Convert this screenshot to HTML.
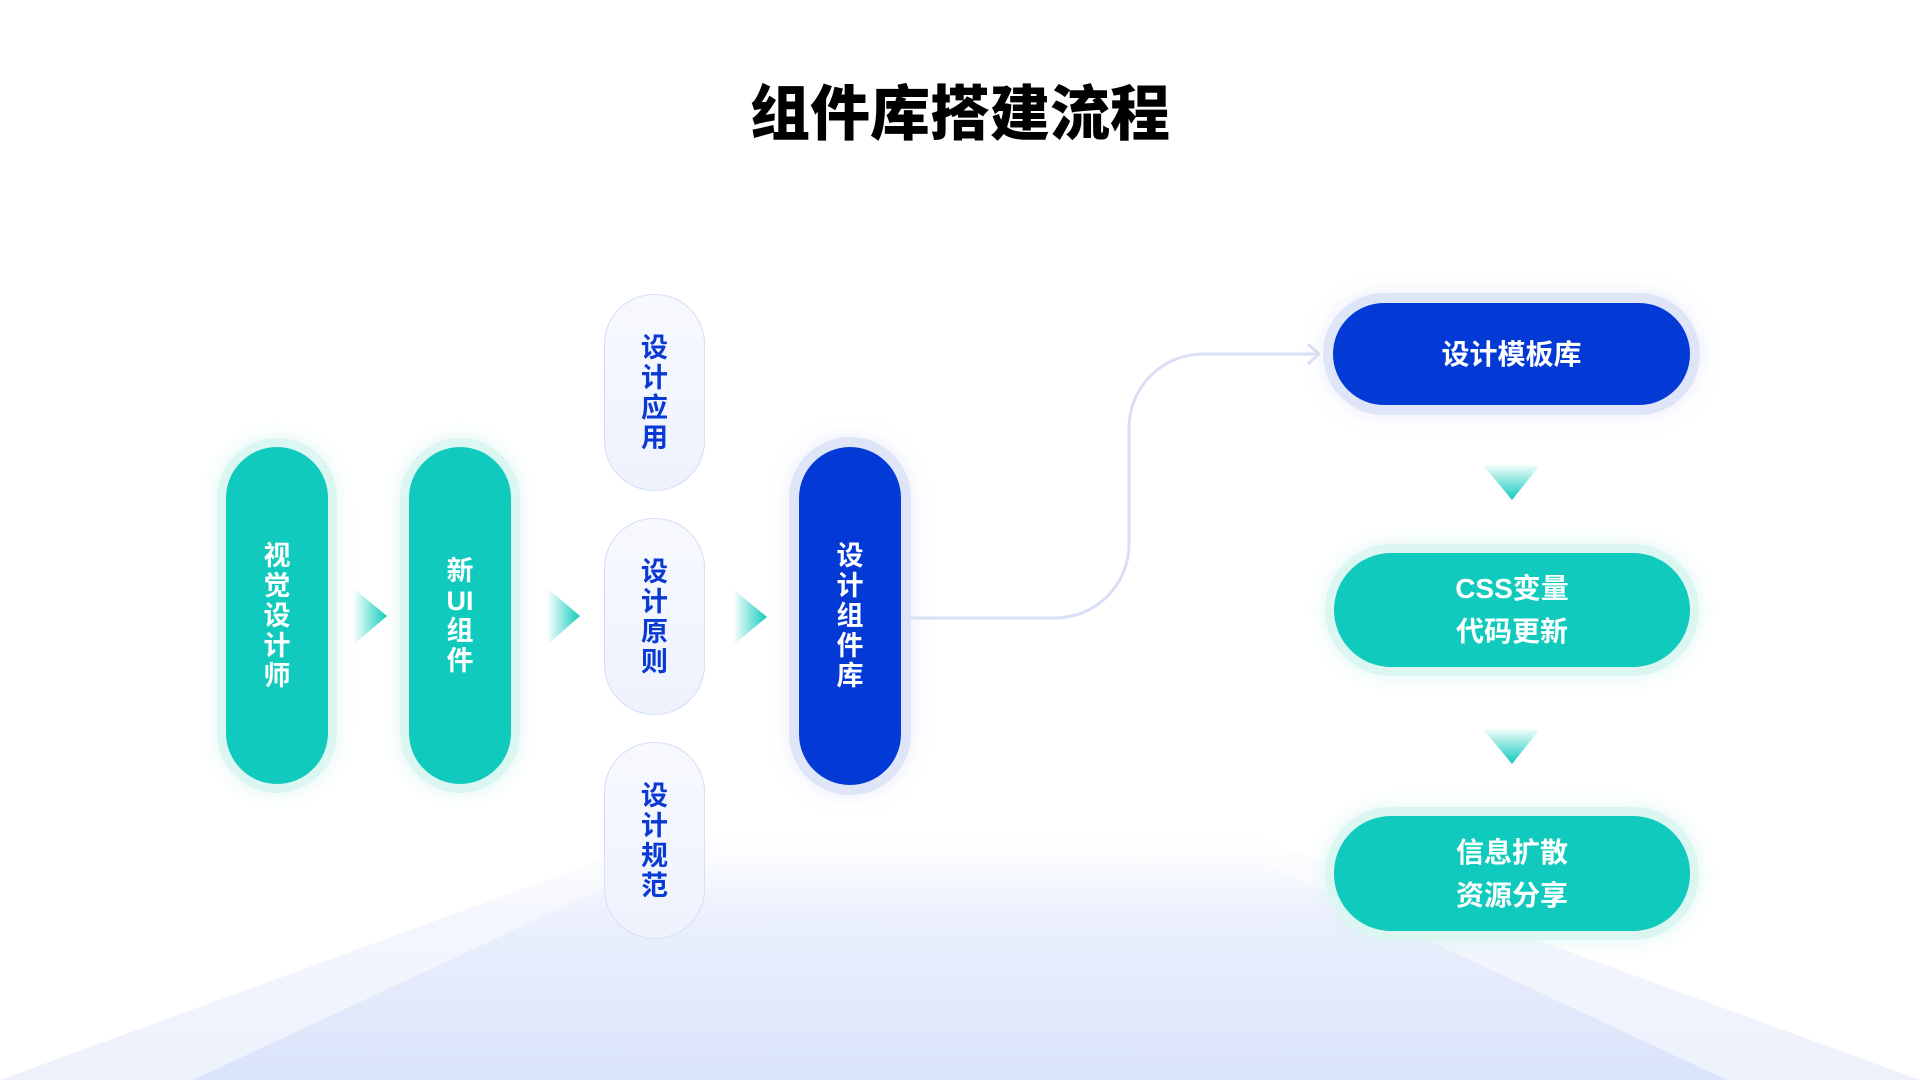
<!DOCTYPE html>
<html>
<head>
<meta charset="utf-8">
<style>
  html, body { margin:0; padding:0; }
  body { width:1920px; height:1080px; position:relative; overflow:hidden; background:#ffffff;
    font-family:"Liberation Sans","Noto Sans CJK SC",sans-serif; }
  .abs { position:absolute; }
  .title { position:absolute; left:0; top:83px; width:1920px; height:64px; line-height:64px; text-align:center;
    font-size:60px; font-weight:900; color:#000; letter-spacing:0px; }
  .pill { position:absolute; display:flex; align-items:center; justify-content:center; box-sizing:border-box; text-align:center; }
  .teal { background:#10cbbd; color:#fff; box-shadow:0 0 0 9px #dcf6f2, 0 0 16px 12px rgba(214,244,240,0.55); }
  .blue { background:#0339d5; color:#fff; box-shadow:0 0 0 10px #dfe5f9, 0 0 16px 12px rgba(220,227,248,0.55); }
  .light { background:linear-gradient(180deg,#f7f9fe 0%,#eef2fd 100%); border:1.5px solid #d6def8; color:#0a3ad4; }
  .vt { font-size:27px; line-height:30px; font-weight:700; }
  .ht { font-size:28px; line-height:43px; font-weight:700; }
</style>
</head>
<body>
<svg class="abs" style="left:0;top:0" width="1920" height="1080" viewBox="0 0 1920 1080">
  <defs>
    <linearGradient id="gOuter" x1="0" y1="830" x2="0" y2="1080" gradientUnits="userSpaceOnUse">
      <stop offset="0" stop-color="#eef2fd" stop-opacity="0"/>
      <stop offset="0.35" stop-color="#eef2fd" stop-opacity="0.65"/>
      <stop offset="1" stop-color="#edf1fc" stop-opacity="1"/>
    </linearGradient>
    <linearGradient id="gInner" x1="0" y1="860" x2="0" y2="1080" gradientUnits="userSpaceOnUse">
      <stop offset="0" stop-color="#e3eafb" stop-opacity="0"/>
      <stop offset="0.4" stop-color="#e6ecfc" stop-opacity="0.85"/>
      <stop offset="1" stop-color="#d9e3fa" stop-opacity="1"/>
    </linearGradient>
    <linearGradient id="gRight" x1="0" y1="0" x2="1" y2="0">
      <stop offset="0" stop-color="#10cbbd" stop-opacity="0"/>
      <stop offset="1" stop-color="#10cbbd" stop-opacity="1"/>
    </linearGradient>
    <linearGradient id="gDown" x1="0" y1="0" x2="0" y2="1">
      <stop offset="0" stop-color="#10cbbd" stop-opacity="0.05"/>
      <stop offset="1" stop-color="#10cbbd" stop-opacity="1"/>
    </linearGradient>
  </defs>
  <polygon points="0,1080 1920,1080 1100,780 820,780" fill="url(#gOuter)"/>
  <polygon points="193,1080 1727,1080 1085,780 835,780" fill="url(#gInner)"/>

  <!-- right arrows -->
  <polygon points="353,588 387,616 353,645" fill="url(#gRight)"/>
  <polygon points="547,588 580,616 547,645" fill="url(#gRight)"/>
  <polygon points="733,589 767,617 733,645" fill="url(#gRight)"/>

  <!-- down arrows -->
  <polygon points="1483,465 1540,465 1512,500" fill="url(#gDown)"/>
  <polygon points="1483,729 1540,729 1512,764" fill="url(#gDown)"/>

  <!-- connector -->
  <path d="M 905 618 H 1055 A 74 74 0 0 0 1129 544 V 428 A 74 74 0 0 1 1203 354 H 1318" fill="none" stroke="#d9dff4" stroke-width="3"/>
  <polyline points="1309,345 1319,354 1309,363" fill="none" stroke="#d9dff4" stroke-width="3" stroke-linecap="round" stroke-linejoin="round"/>
</svg>

<div class="title">组件库搭建流程</div>

<div class="pill teal" style="left:226px;top:447px;width:102px;height:337px;border-radius:51px;">
  <div class="vt">视<br>觉<br>设<br>计<br>师</div>
</div>
<div class="pill teal" style="left:409px;top:447px;width:102px;height:337px;border-radius:51px;">
  <div class="vt">新<br>UI<br>组<br>件</div>
</div>

<div class="pill light" style="left:604px;top:294px;width:101px;height:197px;border-radius:50px;">
  <div class="vt">设<br>计<br>应<br>用</div>
</div>
<div class="pill light" style="left:604px;top:518px;width:101px;height:197px;border-radius:50px;">
  <div class="vt">设<br>计<br>原<br>则</div>
</div>
<div class="pill light" style="left:604px;top:742px;width:101px;height:197px;border-radius:50px;">
  <div class="vt">设<br>计<br>规<br>范</div>
</div>

<div class="pill blue" style="left:799px;top:447px;width:102px;height:338px;border-radius:51px;">
  <div class="vt">设<br>计<br>组<br>件<br>库</div>
</div>

<div class="pill blue" style="left:1333px;top:303px;width:357px;height:102px;border-radius:51px;">
  <div class="ht">设计模板库</div>
</div>
<div class="pill teal" style="left:1334px;top:553px;width:356px;height:114px;border-radius:57px;">
  <div class="ht">CSS变量<br>代码更新</div>
</div>
<div class="pill teal" style="left:1334px;top:816px;width:356px;height:115px;border-radius:57px;">
  <div class="ht">信息扩散<br>资源分享</div>
</div>
</body>
</html>
